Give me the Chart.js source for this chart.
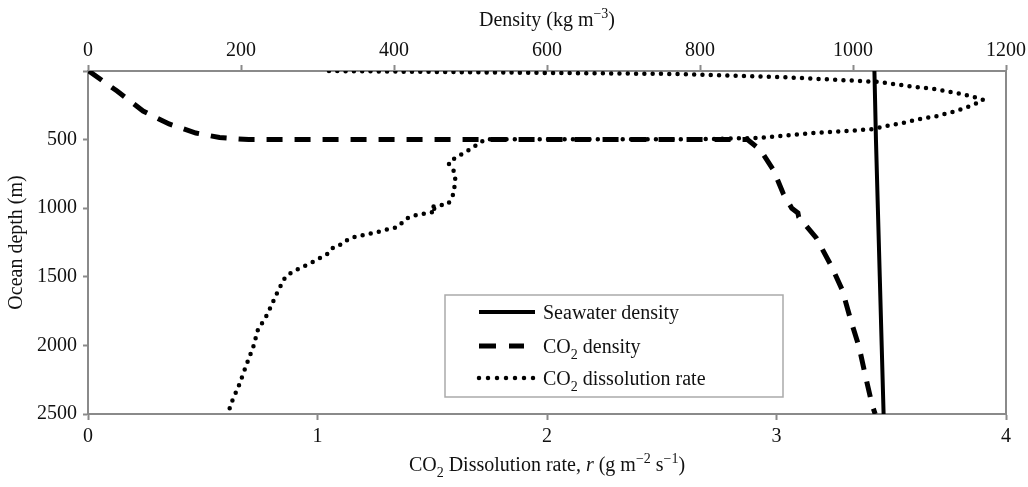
<!DOCTYPE html>
<html>
<head>
<meta charset="utf-8">
<script src="https://cdn.jsdelivr.net/npm/chart.js@4.4.1/dist/chart.umd.min.js"></script>
<style>
  html, body { margin: 0; padding: 0; background: #fff; }
  #wrap { width: 1028px; height: 487px; position: relative; }
</style>
</head>
<body>
<div id="wrap"><canvas id="chart"></canvas></div>
<script>
const densityTicks = [0, 200, 400, 600, 800, 1000, 1200];
const rateTicks = [0, 1, 2, 3, 4];
const depthTicks = [0, 500, 1000, 1500, 2000, 2500];

const seawaterDepth = [0, 500, 1000, 1500, 2000, 2500];
const seawaterDensity = [1028, 1030, 1032.5, 1035, 1037.5, 1040];

const co2Depth = [0, 146, 292, 386, 452, 485, 500, 500, 576, 722, 896, 1000, 1035, 1064, 1217, 1414, 1596, 1815, 2012, 2216, 2434, 2500];
const co2Density = [1, 38, 72, 106, 141, 172, 210, 862, 879, 896, 909, 920, 928, 929, 952, 971, 986, 997, 1008, 1016, 1025, 1029];

const rateDepth = [0, 11, 22, 44, 73, 80, 102, 117, 131, 153, 168, 190, 211, 241, 270, 299, 328, 350, 379, 401,
  416, 423, 437, 452, 474, 488, 497, 497, 510, 576, 634, 671, 714, 758, 816, 904, 969, 984, 991, 1013,
  1035, 1042, 1064, 1086, 1137, 1152, 1166, 1181, 1195, 1203, 1232, 1261, 1283, 1327, 1392, 1465, 1501, 1596, 1778, 1888,
  2012, 2143, 2282, 2398, 2493];
const rateValues = [1.05, 1.80, 2.58, 3.02, 3.37, 3.45, 3.54, 3.61, 3.69, 3.76, 3.81, 3.86, 3.90, 3.865, 3.82, 3.765, 3.70, 3.625, 3.55, 3.48,
  3.44, 3.42, 3.31, 3.16, 3.02, 2.92, 2.67, 1.73, 1.72, 1.66, 1.60, 1.57, 1.59, 1.60, 1.60, 1.59, 1.57, 1.52, 1.49, 1.52,
  1.49, 1.45, 1.40, 1.38, 1.35, 1.31, 1.28, 1.24, 1.21, 1.17, 1.13, 1.11, 1.07, 1.05, 0.98, 0.89, 0.86, 0.83, 0.78, 0.74,
  0.72, 0.69, 0.66, 0.63, 0.61];

const FONT = '"Liberation Serif", "Times New Roman", serif';
const axisColor = '#8a8a8a';
const textColor = '#111';

const toPoints = (xs, ys) => xs.map((x, i) => ({ x: x, y: ys[i] }));

// draws text with sub/superscript and italic pieces
function drawRich(ctx, parts, x, y, size, align) {
  const fontFor = p => (p.it ? 'italic ' : '') + ((p.sub || p.sup) ? Math.round(size * 0.68) : size) + 'px ' + FONT;
  let w = 0;
  parts.forEach(p => { ctx.font = fontFor(p); w += ctx.measureText(p.t).width; });
  let cx = align === 'left' ? x : x - w / 2;
  ctx.textAlign = 'left';
  ctx.textBaseline = 'alphabetic';
  ctx.fillStyle = textColor;
  parts.forEach(p => {
    ctx.font = fontFor(p);
    const dy = p.sub ? size * 0.28 : p.sup ? -size * 0.42 : 0;
    ctx.fillText(p.t, cx, y + dy);
    cx += ctx.measureText(p.t).width;
  });
}

const topTitle = [{ t: 'Density (kg m' }, { t: '\u22123', sup: true }, { t: ')' }];
const bottomTitle = [{ t: 'CO' }, { t: '2', sub: true }, { t: ' Dissolution rate, ' }, { t: 'r', it: true },
  { t: ' (g m' }, { t: '\u22122', sup: true }, { t: ' s' }, { t: '\u22121', sup: true }, { t: ')' }];
const legendLabels = [
  [{ t: 'Seawater density' }],
  [{ t: 'CO' }, { t: '2', sub: true }, { t: ' density' }],
  [{ t: 'CO' }, { t: '2', sub: true }, { t: ' dissolution rate' }]
];

const decorations = {
  id: 'decorations',
  afterDraw(chart) {
    const { ctx, chartArea: a } = chart;
    ctx.save();
    // right edge of the frame
    ctx.strokeStyle = axisColor;
    ctx.lineWidth = 2;
    ctx.beginPath();
    ctx.moveTo(a.right, a.top - 1);
    ctx.lineTo(a.right, a.bottom + 1);
    ctx.stroke();

    const cx = (a.left + a.right) / 2;
    drawRich(ctx, topTitle, cx, 26, 20);
    drawRich(ctx, bottomTitle, cx, 471, 20);

    // legend box
    ctx.fillStyle = '#fff';
    ctx.fillRect(445, 295, 338, 102);
    ctx.strokeStyle = '#aaa';
    ctx.lineWidth = 1.5;
    ctx.strokeRect(445, 295, 338, 102);
    const rows = [312, 346, 378];
    chart.data.datasets.forEach((ds, i) => {
      ctx.save();
      ctx.strokeStyle = ds.borderColor;
      ctx.lineWidth = ds.borderWidth;
      ctx.lineCap = ds.borderCapStyle || 'butt';
      ctx.setLineDash(ds.legendDash || []);
      ctx.beginPath();
      ctx.moveTo(479, rows[i]);
      ctx.lineTo(ds.legendEnd, rows[i]);
      ctx.stroke();
      ctx.restore();
      drawRich(ctx, legendLabels[i], 543, rows[i] + 7, 20, 'left');
    });
    ctx.restore();
  }
};

const fixedTicks = arr => scale => { scale.ticks = arr.map(v => ({ value: v })); };

new Chart(document.getElementById('chart'), {
  type: 'scatter',
  data: {
    datasets: [
      {
        label: 'Seawater density',
        data: toPoints(seawaterDensity, seawaterDepth),
        xAxisID: 'xTop',
        showLine: true,
        borderColor: '#000',
        borderWidth: 4,
        pointRadius: 0,
        legendEnd: 535
      },
      {
        label: 'CO2 density',
        data: toPoints(co2Density, co2Depth),
        xAxisID: 'xTop',
        showLine: true,
        borderColor: '#000',
        borderWidth: 5,
        borderDash: [16, 12],
        legendDash: [17, 13],
        pointRadius: 0,
        legendEnd: 524
      },
      {
        label: 'CO2 dissolution rate',
        data: toPoints(rateValues, rateDepth),
        xAxisID: 'x',
        showLine: true,
        borderColor: '#000',
        borderWidth: 4.5,
        borderDash: [0, 8.3],
        legendDash: [0, 9],
        borderCapStyle: 'round',
        pointRadius: 0,
        legendEnd: 534
      }
    ]
  },
  options: {
    responsive: true,
    maintainAspectRatio: false,
    animation: false,
    events: [],
    layout: { padding: { right: 22 } },
    plugins: { legend: { display: false }, tooltip: { enabled: false } },
    scales: {
      x: {
        type: 'linear',
        position: 'bottom',
        min: 0, max: 4,
        afterBuildTicks: fixedTicks(rateTicks),
        afterFit: s => { s.height = 73; },
        grid: { drawOnChartArea: false, tickLength: 6, tickColor: axisColor, tickWidth: 2 },
        border: { color: axisColor, width: 2 },
        ticks: { color: textColor, padding: 5, font: { family: FONT, size: 20 }, callback: v => String(v) }
      },
      xTop: {
        type: 'linear',
        position: 'top',
        min: 0, max: 1200,
        afterBuildTicks: fixedTicks(densityTicks),
        afterFit: s => { s.height = 71; },
        grid: { drawOnChartArea: false, tickLength: 6, tickColor: axisColor, tickWidth: 2 },
        border: { color: axisColor, width: 2 },
        ticks: { color: textColor, padding: 2, font: { family: FONT, size: 20 }, callback: v => String(v) }
      },
      y: {
        type: 'linear',
        position: 'left',
        reverse: true,
        min: 0, max: 2500,
        afterBuildTicks: fixedTicks(depthTicks),
        afterFit: s => { s.width = 88; },
        grid: { drawOnChartArea: false, tickLength: 5, tickColor: axisColor, tickWidth: 2 },
        border: { color: axisColor, width: 2 },
        ticks: { color: textColor, padding: 6, font: { family: FONT, size: 20 }, callback: v => v === 0 ? '' : String(v) },
        title: { display: true, text: 'Ocean depth (m)', color: textColor, padding: { top: 5 }, font: { family: FONT, size: 20 } }
      }
    }
  },
  plugins: [decorations]
});
</script>
</body>
</html>
